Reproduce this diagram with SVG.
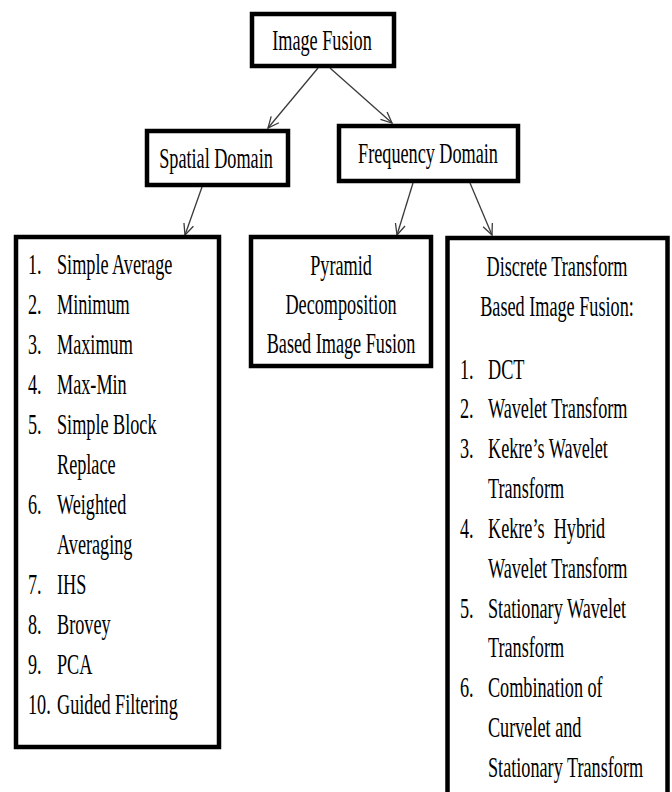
<svg xmlns="http://www.w3.org/2000/svg" width="672" height="792" viewBox="0 0 672 792">
<style>
.box{fill:#fff;stroke:#000;stroke-width:4.5}
text{font-family:"Liberation Serif","Times New Roman",serif;font-size:18.2px;fill:#000}
.c{text-anchor:middle}
.conn line{stroke:#3a3a3a;stroke-width:1.3;fill:none}
</style>
<defs>
<marker id="ah" markerUnits="userSpaceOnUse" markerWidth="14" markerHeight="14" refX="12" refY="6" orient="auto">
<path d="M1,1 L12,6 L1,11" fill="none" stroke="#3a3a3a" stroke-width="1.3"/>
</marker>
</defs>
<rect width="672" height="792" fill="#fff"/>
<g id="connectors" class="conn">
<line x1="318" y1="68" x2="268" y2="128" marker-end="url(#ah)"/>
<line x1="330" y1="68" x2="392" y2="123" marker-end="url(#ah)"/>
<line x1="202" y1="187" x2="185" y2="235" marker-end="url(#ah)"/>
<line x1="413" y1="183" x2="397" y2="235" marker-end="url(#ah)"/>
<line x1="470" y1="183" x2="492" y2="235" marker-end="url(#ah)"/>
</g>
<g id="image-fusion">
<rect class="box" x="252" y="14" width="142" height="52"/>
<text class="c" transform="translate(322,50) scale(1,1.6)">Image Fusion</text>
</g>
<g id="spatial-domain">
<rect class="box" x="147" y="131" width="141" height="54"/>
<text class="c" transform="translate(216,168) scale(1,1.6)">Spatial Domain</text>
</g>
<g id="frequency-domain">
<rect class="box" x="339" y="126" width="179" height="55"/>
<text class="c" transform="translate(428,163) scale(1,1.6)">Frequency Domain</text>
</g>
<g id="spatial-list">
<rect class="box" x="16" y="237" width="203" height="510"/>
<text transform="translate(0,274) scale(1,1.6)"><tspan x="28">1.</tspan><tspan x="57">Simple Average</tspan></text>
<text transform="translate(0,314) scale(1,1.6)"><tspan x="28">2.</tspan><tspan x="57">Minimum</tspan></text>
<text transform="translate(0,354) scale(1,1.6)"><tspan x="28">3.</tspan><tspan x="57">Maximum</tspan></text>
<text transform="translate(0,394) scale(1,1.6)"><tspan x="28">4.</tspan><tspan x="57">Max-Min</tspan></text>
<text transform="translate(0,434) scale(1,1.6)"><tspan x="28">5.</tspan><tspan x="57">Simple Block</tspan></text>
<text transform="translate(0,474) scale(1,1.6)"><tspan x="57">Replace</tspan></text>
<text transform="translate(0,514) scale(1,1.6)"><tspan x="28">6.</tspan><tspan x="57">Weighted</tspan></text>
<text transform="translate(0,554) scale(1,1.6)"><tspan x="57">Averaging</tspan></text>
<text transform="translate(0,594) scale(1,1.6)"><tspan x="28">7.</tspan><tspan x="57">IHS</tspan></text>
<text transform="translate(0,634) scale(1,1.6)"><tspan x="28">8.</tspan><tspan x="57">Brovey</tspan></text>
<text transform="translate(0,674) scale(1,1.6)"><tspan x="28">9.</tspan><tspan x="57">PCA</tspan></text>
<text transform="translate(0,714) scale(1,1.6)"><tspan x="28">10.</tspan><tspan x="57">Guided Filtering</tspan></text>
</g>
<g id="pyramid">
<rect class="box" x="251" y="237" width="180" height="129"/>
<text class="c" transform="translate(341,275) scale(1,1.6)">Pyramid</text>
<text class="c" transform="translate(341,314) scale(1,1.6)">Decomposition</text>
<text class="c" transform="translate(341,353) scale(1,1.6)">Based Image Fusion</text>
</g>
<g id="discrete">
<rect class="box" x="447.5" y="238" width="220" height="570"/>
<text class="c" transform="translate(557,276) scale(1,1.6)">Discrete Transform</text>
<text class="c" transform="translate(557,316) scale(1,1.6)">Based Image Fusion:</text>
<text transform="translate(0,379) scale(1,1.6)"><tspan x="460">1.</tspan><tspan x="488">DCT</tspan></text>
<text transform="translate(0,418) scale(1,1.6)"><tspan x="460">2.</tspan><tspan x="488">Wavelet Transform</tspan></text>
<text transform="translate(0,458) scale(1,1.6)"><tspan x="460">3.</tspan><tspan x="488">Kekre’s Wavelet</tspan></text>
<text transform="translate(0,498) scale(1,1.6)"><tspan x="488">Transform</tspan></text>
<text xml:space="preserve" style="white-space:pre" transform="translate(0,538) scale(1,1.6)"><tspan x="460">4.</tspan><tspan x="488">Kekre’s  Hybrid</tspan></text>
<text transform="translate(0,578) scale(1,1.6)"><tspan x="488">Wavelet Transform</tspan></text>
<text transform="translate(0,618) scale(1,1.6)"><tspan x="460">5.</tspan><tspan x="488">Stationary Wavelet</tspan></text>
<text transform="translate(0,657) scale(1,1.6)"><tspan x="488">Transform</tspan></text>
<text transform="translate(0,697) scale(1,1.6)"><tspan x="460">6.</tspan><tspan x="488">Combination of</tspan></text>
<text transform="translate(0,737) scale(1,1.6)"><tspan x="488">Curvelet and</tspan></text>
<text transform="translate(0,777) scale(1,1.6)"><tspan x="488">Stationary Transform</tspan></text>
</g>
</svg>
